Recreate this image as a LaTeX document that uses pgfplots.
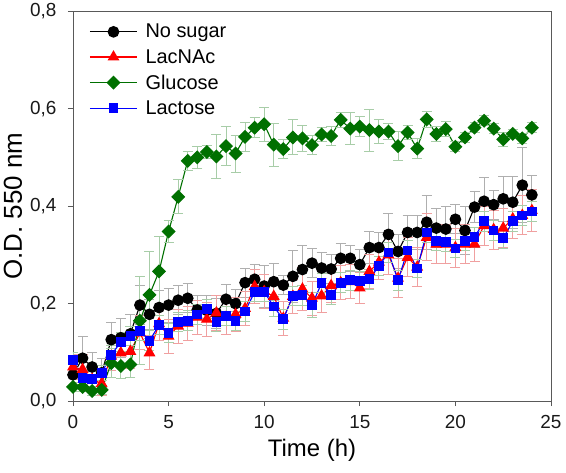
\documentclass[border=0pt]{standalone}
\usepackage{pgfplots}
\pgfplotsset{compat=1.18}
\usepackage{pgfplotstable}
\usepackage{fontspec}
\setmainfont{Liberation Sans}
\definecolor{dgreen}{RGB}{0,112,0}
\definecolor{ebgray}{RGB}{175,175,175}
\definecolor{ebred}{RGB}{240,160,160}
\definecolor{ebgreen}{RGB}{168,205,168}

\pgfplotstableread{
t    ns    nse   lc    lce   gl    gle   la    lae
0    0.054 0.020 0.070 0.025 0.029 0.010 0.085 0.015
0.5  0.088 0.045 0.065 0.030 0.029 0.010 0.047 0.015
1    0.070 0.030 0.045 0.025 0.021 0.010 0.045 0.015
1.5  0.058 0.030 0.036 0.025 0.023 0.010 0.058 0.015
2    0.126 0.035 0.092 0.030 0.078 0.030 0.095 0.020
2.5  0.130 0.040 0.099 0.030 0.072 0.026 0.121 0.020
3    0.138 0.040 0.102 0.035 0.075 0.027 0.134 0.020
3.5  0.197 0.040 0.140 0.035 0.165 0.090 0.144 0.020
4    0.178 0.030 0.099 0.035 0.218 0.090 0.124 0.020
4.5  0.192 0.035 0.159 0.035 0.266 0.072 0.156 0.020
5    0.197 0.035 0.133 0.035 0.348 0.023 0.140 0.020
5.5  0.207 0.030 0.154 0.035 0.419 0.035 0.162 0.020
6    0.211 0.030 0.160 0.035 0.493 0.020 0.165 0.020
6.5  0.187 0.030 0.172 0.035 0.500 0.022 0.178 0.020
7    0.186 0.030 0.168 0.035 0.511 0.014 0.189 0.020
7.5  0.180 0.030 0.181 0.035 0.502 0.046 0.162 0.020
8    0.209 0.030 0.172 0.035 0.523 0.040 0.175 0.020
8.5  0.200 0.030 0.178 0.035 0.508 0.038 0.164 0.020
9    0.243 0.030 0.190 0.035 0.542 0.030 0.184 0.020
9.5  0.250 0.030 0.235 0.035 0.561 0.020 0.224 0.020
10   0.236 0.043 0.225 0.035 0.568 0.035 0.224 0.020
10.5 0.245 0.038 0.215 0.030 0.526 0.044 0.194 0.020
11   0.238 0.020 0.170 0.035 0.517 0.020 0.168 0.021
11.5 0.256 0.054 0.215 0.035 0.541 0.036 0.216 0.020
12   0.270 0.049 0.230 0.045 0.539 0.026 0.217 0.020
12.5 0.283 0.030 0.211 0.035 0.525 0.020 0.197 0.026
13   0.273 0.031 0.216 0.035 0.547 0.015 0.242 0.020
13.5 0.271 0.030 0.237 0.035 0.544 0.020 0.217 0.018
14   0.293 0.030 0.243 0.035 0.577 0.015 0.243 0.020
14.5 0.293 0.027 0.245 0.035 0.559 0.033 0.248 0.020
15   0.280 0.032 0.232 0.031 0.563 0.020 0.247 0.020
15.5 0.315 0.033 0.266 0.035 0.556 0.043 0.250 0.020
16   0.315 0.030 0.285 0.035 0.553 0.024 0.277 0.020
16.5 0.342 0.044 0.300 0.040 0.553 0.016 0.305 0.020
17   0.307 0.035 0.252 0.040 0.523 0.030 0.248 0.020
17.5 0.346 0.035 0.295 0.040 0.551 0.015 0.309 0.020
18   0.346 0.035 0.275 0.040 0.518 0.020 0.272 0.019
18.5 0.367 0.055 0.336 0.048 0.578 0.016 0.346 0.020
19   0.355 0.040 0.322 0.040 0.548 0.015 0.329 0.020
19.5 0.353 0.046 0.322 0.040 0.558 0.015 0.327 0.020
20   0.373 0.030 0.315 0.040 0.522 0.010 0.313 0.018
20.5 0.350 0.050 0.322 0.040 0.541 0.010 0.329 0.020
21   0.398 0.032 0.322 0.035 0.561 0.010 0.336 0.020
21.5 0.410 0.048 0.360 0.040 0.575 0.010 0.369 0.020
22   0.403 0.030 0.352 0.040 0.559 0.010 0.350 0.020
22.5 0.415 0.046 0.355 0.040 0.537 0.015 0.334 0.020
23   0.408 0.053 0.374 0.040 0.548 0.010 0.369 0.020
23.5 0.443 0.077 0.381 0.040 0.539 0.010 0.381 0.020
24   0.423 0.040 0.391 0.043 0.561 0.010 0.389 0.020
}\datatable

\begin{document}
\begin{tikzpicture}
\begin{axis}[
  scale only axis,
  width=478bp, height=390bp,
  xmin=0, xmax=25, ymin=0, ymax=0.8,
  xtick={0,5,10,15,20,25},
  ytick={0,0.2,0.4,0.6,0.8},
  /pgf/number format/assume math mode=true,
  tick label style={font=\fontsize{19}{21}\selectfont, color=black!90},
  xticklabel style={yshift=-6bp},
  yticklabel style={xshift=-8bp, /pgf/number format/.cd, fixed, fixed zerofill, precision=1, use comma},
  tick align=outside,
  tick pos=left,
  major tick length=5bp,
  every tick/.style={gray!70!black, line width=0.8pt},
  axis line style={gray!70!black, line width=1pt},
  xlabel={Time (h)},
  ylabel={O.D. 550 nm},
  xlabel style={font=\fontsize{24}{26}\selectfont, at={(axis description cs:0.5,-0.1256)}, anchor=center},
  ylabel style={font=\fontsize{26}{28}\selectfont, inner sep=0pt, at={(axis description cs:-0.1255,0.5)}, anchor=center},
  legend style={at={(axis description cs:0.034,0.972)}, anchor=north west, draw=none, fill=none,
    font=\fontsize{20}{22}\selectfont, row sep=6bp, column sep=4bp, inner sep=0pt,
    nodes={inner xsep=4bp}},
  legend cell align=left,
  legend image code/.code={\draw[mark repeat=2,mark phase=2] plot coordinates {(0bp,0bp) (23.5bp,0bp) (47bp,0bp)};},
  error bars/y dir=both,
  error bars/y explicit,
]
\addplot[black, line width=1.1pt, mark=*, mark size=5.3bp, mark options={solid, fill=black},
  error bars/error bar style={ebgray, line width=0.9pt},
  error bars/error mark options={ebgray, line width=0.9pt, mark size=5bp, rotate=90}]
  table[x=t, y=ns, y error=nse]{\datatable};
\addlegendentry{No sugar}
\addplot[red, line width=1.1pt, mark=triangle*, mark size=5.8bp, mark options={solid, fill=red},
  error bars/error bar style={ebred, line width=0.9pt},
  error bars/error mark options={ebred, line width=0.9pt, mark size=5bp, rotate=90}]
  table[x=t, y=lc, y error=lce]{\datatable};
\addlegendentry{LacNAc}
\addplot[dgreen, line width=1.1pt, mark=square*, mark size=4.4bp, mark options={solid, fill=dgreen, rotate=45},
  error bars/error bar style={ebgreen, line width=0.9pt},
  error bars/error mark options={ebgreen, line width=0.9pt, mark size=5bp, rotate=90}]
  table[x=t, y=gl, y error=gle]{\datatable};
\addlegendentry{Glucose}
\addplot[blue, line width=1.1pt, mark=square*, mark size=4.3bp, mark options={solid, fill=blue},
  error bars/error bar style={ebgreen, line width=0.9pt},
  error bars/error mark options={ebgreen, line width=0.9pt, mark size=5bp, rotate=90}]
  table[x=t, y=la, y error=lae]{\datatable};
\addlegendentry{Lactose}
\end{axis}
\path (-73bp,-71bp) rectangle (493bp,398bp);
\end{tikzpicture}
\end{document}
